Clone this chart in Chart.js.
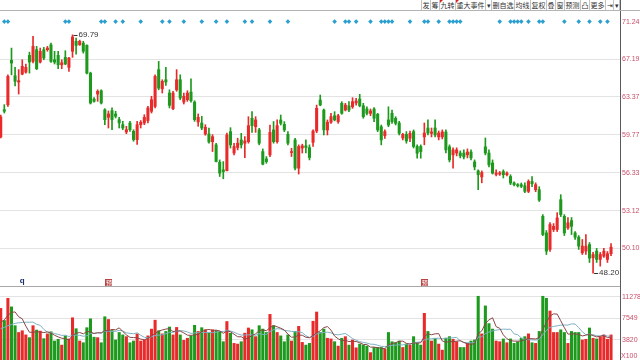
<!DOCTYPE html>
<html>
<head>
<meta charset="utf-8">
<script src="https://cdn.jsdelivr.net/npm/chart.js@4.4.1/dist/chart.umd.min.js"></script>
<style>
  body { margin:0; width:640px; height:360px; overflow:hidden; background:#fff; position:relative; }
  canvas { position:absolute; left:0; }
  #k { top:0; }
  #v { top:286px; }
  #topline { position:absolute; left:0; top:10px; width:640px; height:1px; background:#b4b4b4; }
  #sep { position:absolute; left:0; top:286px; width:620px; height:1px; background:#a8a8a8; }
  #bar { position:absolute; top:0; right:20px; height:10px; display:flex; border-left:1px solid #c4c4c4; }
  #bar span { position:relative; font:7px "Noto Sans CJK SC", sans-serif; line-height:10px; height:10px; color:#333;
              border-right:1px solid #c4c4c4; padding:0 0.5px; background:#fff; }
  #bar span.f::before { content:''; position:absolute; left:0; top:0; border-top:3px solid #e02020; border-right:3px solid transparent; }
  #unit { position:absolute; left:621px; top:352px; font:7px "Liberation Sans", sans-serif; color:#c8506a; }
</style>
</head>
<body>
<canvas id="k" width="640" height="286"></canvas>
<canvas id="v" width="640" height="76"></canvas>
<div id="bar"><span>发</span><span>筹</span><span class="f">九转</span><span class="f">重大事件</span><span>▾</span><span>删自选</span><span>均线</span><span>复权</span><span>叠</span><span>窗</span><span>预测</span><span>凸</span><span>更多</span><span>⇥</span><span>▾</span></div>
<div id="topline"></div>
<div id="sep"></div>
<div id="unit">X100</div>
<script>
// daily k-line
const opens = [
  59.55,62.13,62.61,67.08,65.49,64.86,65.66,65.86,67.60,66.97,
  68.20,66.90,68.20,68.20,68.72,67.14,67.60,66.62,67.39,66.35,
  68.03,69.09,68.72,68.90,68.66,65.76,63.17,63.66,63.99,62.13,
  61.40,62.04,61.72,61.18,60.70,60.02,60.86,60.08,59.31,60.70,
  60.86,61.09,61.98,62.45,66.12,64.18,65.09,63.76,62.23,64.08,
  65.09,62.87,63.10,63.86,62.87,60.96,60.86,59.83,59.83,59.12,
  58.83,57.26,56.59,56.52,60.05,58.09,58.59,59.28,58.98,59.12,
  61.31,60.51,60.21,58.22,57.56,57.92,60.21,59.12,61.15,60.73,
  59.80,58.13,59.28,56.74,58.54,58.74,58.58,59.06,60.11,63.07,
  62.10,60.21,60.93,61.55,60.99,62.75,62.10,62.51,62.41,62.78,
  63.17,62.51,62.20,61.78,62.20,61.69,60.51,59.68,61.15,61.78,
  61.31,60.86,59.46,59.80,59.43,60.05,58.68,58.68,59.56,60.39,
  59.89,60.39,59.56,59.56,60.02,58.65,57.92,58.09,58.09,58.09,
  57.92,58.18,57.29,56.50,55.97,58.65,58.09,57.20,56.19,56.22,
  56.44,56.16,56.01,55.46,55.30,55.30,55.21,54.73,55.58,54.87,
  54.87,52.65,51.31,50.01,51.58,51.58,54.03,52.65,51.71,52.30,
  51.31,50.97,49.75,49.88,50.39,49.36,49.88,49.24,49.49,49.24,49.68
];
const highs = [
  61.62,62.62,65.59,68.37,66.35,66.12,67.14,66.70,67.94,69.62,
  68.55,68.37,68.45,68.55,68.90,68.03,68.03,67.14,68.09,67.39,
  69.79,69.44,69.22,69.09,68.72,65.86,63.30,64.08,64.08,62.23,
  62.01,62.30,61.98,61.40,61.02,60.55,61.02,60.23,61.02,61.09,
  61.65,62.45,63.44,65.59,66.97,65.09,66.35,64.08,63.93,66.12,
  65.59,63.76,63.99,65.19,63.00,61.72,61.50,60.70,60.39,59.77,
  58.98,57.47,57.32,59.92,60.42,58.98,59.44,59.89,59.58,61.46,
  61.94,61.46,60.36,58.46,57.77,60.67,61.00,61.15,61.62,60.99,
  60.05,58.52,59.44,58.83,58.89,59.28,58.83,60.21,62.58,63.56,
  62.20,61.15,61.78,61.94,61.69,62.91,62.75,62.91,63.30,63.24,
  63.63,62.75,62.41,62.20,62.33,61.78,60.67,60.21,62.41,62.10,
  61.46,61.02,59.89,60.05,60.11,60.21,58.83,58.83,60.86,61.15,
  60.39,61.15,60.11,60.21,60.21,58.83,58.56,58.56,58.28,58.37,
  58.46,58.37,57.47,56.59,56.50,59.46,58.37,57.47,56.59,56.45,
  56.59,56.41,56.16,55.55,55.40,55.45,55.46,55.72,56.01,55.46,
  55.13,52.79,51.50,52.14,52.06,52.95,54.45,52.79,52.55,52.55,
  51.42,51.10,50.79,51.18,50.55,49.78,50.09,49.78,50.09,49.85,50.47
];
const lows = [
  59.46,61.81,62.45,65.59,64.47,63.66,65.59,65.76,65.76,66.80,
  66.12,66.80,67.14,68.03,66.87,66.70,66.21,66.21,66.62,65.93,
  67.39,67.73,68.66,67.84,65.69,62.68,62.87,62.94,62.68,60.70,
  60.39,60.23,61.34,60.39,60.23,59.86,60.08,59.16,58.86,60.39,
  60.70,60.86,61.81,62.30,64.08,63.76,64.53,62.30,62.13,63.93,
  63.10,62.68,62.94,62.87,61.02,60.55,60.23,59.71,58.99,58.22,
  57.29,56.01,55.81,56.50,58.54,57.92,58.37,58.54,57.68,58.98,
  59.98,59.98,58.83,57.03,57.17,57.77,58.98,58.98,60.67,60.05,
  58.83,57.77,56.59,56.22,58.09,58.09,57.47,58.68,59.95,62.51,
  59.74,59.74,60.83,61.06,60.83,61.69,62.01,61.94,62.26,62.58,
  62.41,61.31,61.62,61.55,60.99,60.05,58.83,59.43,60.51,60.83,
  60.67,59.74,59.28,58.98,59.12,58.54,57.62,57.62,58.83,59.74,
  59.56,59.56,59.28,59.37,58.09,57.29,56.74,57.83,57.65,57.56,
  57.65,57.47,56.59,54.87,55.46,57.92,56.85,56.22,56.05,56.10,
  55.88,56.05,55.30,55.20,55.10,55.05,54.62,54.62,55.13,54.70,
  53.88,51.10,49.62,49.85,51.42,51.42,52.63,51.10,51.58,51.18,
  50.79,50.01,49.62,49.62,49.01,48.20,49.01,48.73,49.39,49.01,49.52
];
const closes = [
  61.43,61.98,65.43,66.80,64.93,64.99,66.46,66.35,66.90,68.55,
  66.21,68.03,67.32,68.37,66.97,66.90,66.62,66.83,66.70,67.32,
  69.55,68.66,69.09,68.03,65.76,62.78,62.94,63.93,62.78,61.18,
  61.72,61.18,61.50,60.86,60.39,60.23,60.23,59.31,60.70,60.93,
  61.40,62.30,63.10,65.43,64.25,64.93,64.86,62.55,63.76,65.09,
  63.27,63.44,63.76,63.00,61.18,61.40,60.39,60.46,59.09,59.58,
  57.32,56.30,56.44,59.74,58.83,58.68,58.98,58.83,59.19,60.61,
  60.61,61.15,58.98,57.09,57.32,59.98,59.12,60.61,60.83,60.21,
  58.98,58.22,56.74,58.68,58.74,58.59,57.68,60.11,62.27,62.58,
  60.21,60.93,61.46,61.15,61.55,61.78,62.58,62.10,62.91,62.98,
  62.51,61.46,61.78,62.01,61.31,60.21,59.28,60.05,60.67,60.99,
  60.83,59.89,59.80,59.19,59.89,58.68,58.07,58.22,59.92,59.92,
  60.02,59.74,59.92,60.02,58.37,57.47,58.37,58.37,57.83,57.74,
  58.18,57.65,56.85,56.16,56.35,58.09,57.03,56.30,56.32,56.32,
  56.16,56.30,55.44,55.30,55.21,55.16,54.73,55.58,55.38,55.30,
  53.99,51.18,49.88,51.98,51.84,52.52,52.79,51.31,52.12,51.84,
  50.97,50.27,50.27,50.27,49.34,49.62,49.24,49.62,49.88,49.68,50.19
];
// volume in lots of 100
const vols = [
  9300,7200,11050,9560,6300,5120,5420,4700,4230,6300,
  5540,5360,4050,4880,5240,3640,3940,2930,4530,4000,
  7670,5770,3640,3340,5950,7490,4300,4230,3340,7850,
  7370,5470,3820,5120,4700,4400,3340,3640,4880,3640,
  3820,4530,5710,7250,5420,4880,5300,6070,4700,6000,
  4700,3760,4120,4530,6360,5300,5950,5590,5000,5590,
  5470,5300,3520,7020,5000,3230,3110,3520,5000,5900,
  5590,4400,6300,5710,5120,8260,6300,5120,4530,3520,
  4700,3640,5300,6180,3400,2930,3230,7070,8670,5120,
  5710,4120,4000,3520,2760,4120,4400,2930,3820,2460,
  3110,2930,2760,1630,2520,2520,2520,2280,5120,3520,
  3340,3640,2520,3110,2930,4400,3340,2930,8440,5300,
  3640,4120,3110,2060,4120,4400,3940,3520,2520,2520,
  3230,3640,3820,11400,4880,9730,6660,5710,3640,3520,
  4000,3340,4000,3230,3520,4120,4400,4880,3340,3230,
  5300,11400,11050,8850,5120,5120,5590,5120,3230,5300,
  5120,5120,3820,3940,5900,4120,4000,4400,4700,3940,4700
];
// the first days of the two volume averages lean on history left of the window
const ma5Head = [6900, 7300, 8100, 8600];
const ma10Head = [5800, 6000, 6300, 6500, 6700, 6800, 6850, 6900, 6900];
const priceTicks = [50.10, 53.12, 56.33, 59.77, 63.37, 67.19, 71.24];
const volTicks = [3820, 7549, 11278];
// days carrying a blue notice diamond
const noticeDays = [1,2,18,19,28,29,32,34,39,45,47,51,56,60,63,68,70,75,80,93,96,97,99,103,
  106,107,108,109,114,118,119,122,125,126,127,128,139,142,143,144,145,147,150,151,157,161,164,167,169];
const eventDays = [6, 30, 118];
const eventText = ['q', '预', '预'];

const UP = '#e82a2a', DOWN = '#1d9a1d';
const days = opens.map((_, i) => i);
const colors = days.map(i => closes[i] >= opens[i] ? UP : DOWN);

function avg(n, head) {
  return vols.map((_, i) => {
    if (i < head.length) return head[i];
    const s = vols.slice(i - n + 1, i + 1);
    return s.reduce((a, b) => a + b, 0) / n;
  });
}
const ma5 = avg(5, ma5Head), ma10 = avg(10, ma10Head);

const xAxis = { type: 'linear', min: -0.2, max: 172.5, offset: false, display: false };
const tickFont = { size: 7, family: 'Liberation Sans' };

function fitRight(s) { s.width = 20; s.paddingTop = 0; s.paddingBottom = 0; }

// hi/lo labels and event marks
const marks = {
  id: 'marks',
  afterDatasetsDraw(chart) {
    const { ctx, scales: { x, y } } = chart;
    ctx.save();
    ctx.font = '8px "Liberation Sans"';
    ctx.textBaseline = 'middle';
    const hi = highs.indexOf(Math.max(...highs));
    const lo = lows.indexOf(Math.min(...lows));
    [[hi, highs[hi]], [lo, lows[lo]]].forEach(([i, v]) => {
      const px = x.getPixelForValue(i), py = y.getPixelForValue(v);
      ctx.strokeStyle = '#333';
      ctx.lineWidth = 1;
      ctx.beginPath();
      ctx.moveTo(px + 1, Math.round(py) + 0.5);
      ctx.lineTo(px + 5, Math.round(py) + 0.5);
      ctx.stroke();
      ctx.fillStyle = '#333';
      ctx.fillText(v.toFixed(2), px + 6, py);
    });
    const base = chart.chartArea.bottom;
    ctx.textAlign = 'center';
    eventDays.forEach((d, k) => {
      const px = x.getPixelForValue(d);
      if (eventText[k] === 'q') {
        ctx.fillStyle = '#1c2f6a';
        ctx.font = 'bold 8px "Liberation Sans"';
        ctx.textBaseline = 'alphabetic';
        ctx.fillText('q', px, base - 3);
      } else {
        ctx.fillStyle = '#b94545';
        ctx.fillRect(Math.round(px) - 3, base - 7, 7, 7);
        ctx.fillStyle = '#fff';
        ctx.font = '6px "Noto Sans CJK SC"';
        ctx.textBaseline = 'middle';
        ctx.fillText(eventText[k], px + 0.5, base - 3.5);
      }
    });
    ctx.restore();
  }
};

new Chart(document.getElementById('k'), {
  type: 'bar',
  data: {
    datasets: [
      { type: 'scatter', data: noticeDays.map(d => ({ x: d, y: 71.24 })), pointStyle: 'rectRot',
        pointRadius: 2.3, backgroundColor: '#2a9fd0', borderWidth: 0, order: 0 },
      { data: days.map(i => ({ x: i, y: [lows[i], highs[i]] })), backgroundColor: colors,
        barThickness: 1, grouped: false, order: 2 },
      { data: days.map(i => ({ x: i, y: [opens[i], closes[i]] })), backgroundColor: colors,
        barThickness: 2.4, grouped: false, minBarLength: 1, order: 1 }
    ]
  },
  options: {
    responsive: false, animation: false, devicePixelRatio: 1,
    layout: { padding: 0, autoPadding: false },
    plugins: { legend: { display: false }, tooltip: { enabled: false } },
    scales: {
      x: xAxis,
      y: {
        type: 'logarithmic', position: 'right', min: 47.25, max: 73.67, bounds: 'data',
        afterBuildTicks: s => { s.ticks = priceTicks.map(v => ({ value: v })); },
        afterFit: fitRight,
        grid: { color: c => (c.tick && c.tick.value === 71.24) ? 'rgba(0,0,0,0)' : '#e3e3e3', drawTicks: false },
        border: { display: true, color: '#5a5a5a' },
        ticks: { autoSkip: false, padding: 2, color: '#c8506a', font: tickFont, callback: v => Number(v).toFixed(2) }
      }
    }
  },
  plugins: [marks]
});

new Chart(document.getElementById('v'), {
  data: {
    datasets: [
      { type: 'line', data: days.map(i => ({ x: i, y: ma5[i] })), borderColor: '#8a4646', borderWidth: 1,
        pointRadius: 0, order: 0 },
      { type: 'line', data: days.map(i => ({ x: i, y: ma10[i] })), borderColor: '#7fb0c4', borderWidth: 1,
        pointRadius: 0, order: 1 },
      { type: 'bar', data: days.map(i => ({ x: i, y: vols[i] })), backgroundColor: colors,
        barThickness: 2.4, order: 2 }
    ]
  },
  options: {
    responsive: false, animation: false, devicePixelRatio: 1,
    layout: { padding: 0, autoPadding: false },
    plugins: { legend: { display: false }, tooltip: { enabled: false } },
    scales: {
      x: xAxis,
      y: {
        position: 'right', min: 0, max: 13180,
        afterBuildTicks: s => { s.ticks = volTicks.map(v => ({ value: v })); },
        afterFit: fitRight,
        grid: { color: '#e3e3e3', drawTicks: false },
        border: { display: true, color: '#5a5a5a' },
        ticks: { autoSkip: false, padding: 2, color: '#c8506a', font: tickFont, callback: v => String(v) }
      }
    }
  }
});
</script>
</body>
</html>
